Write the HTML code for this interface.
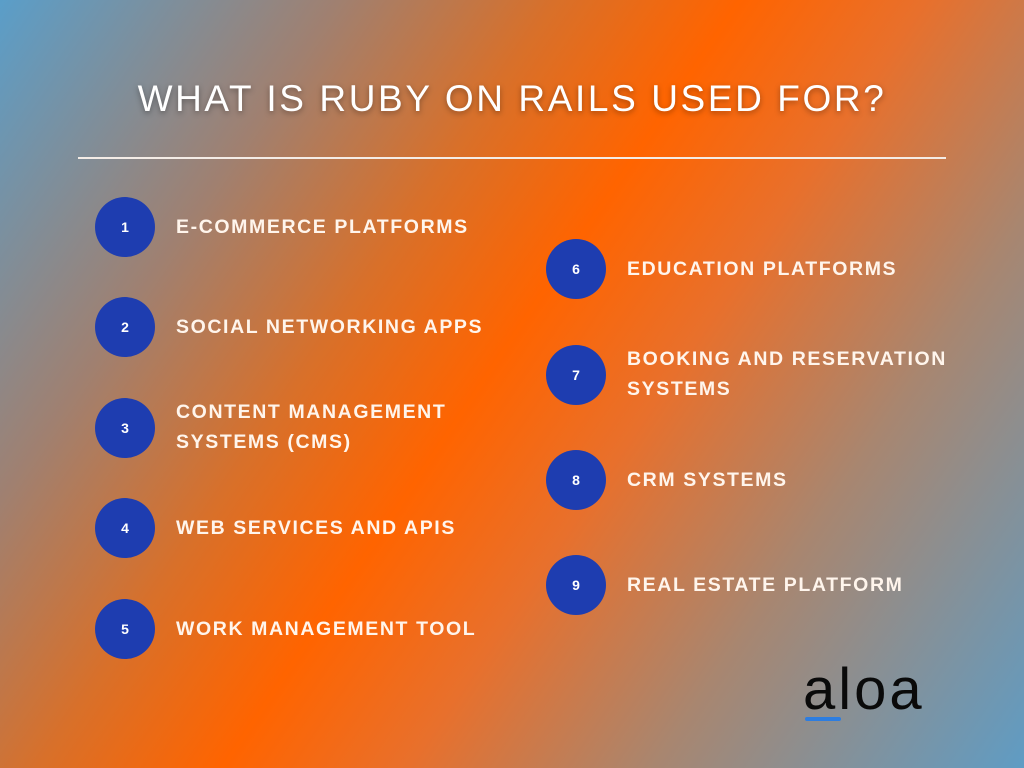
<!DOCTYPE html>
<html><head><meta charset="utf-8"><style>
body{margin:0;width:1024px;height:768px;overflow:hidden;font-family:"Liberation Sans",sans-serif;
background:linear-gradient(124deg,#5a9ec9 0%,#a08070 22%,#d8702a 36%,#ff6400 48%,#e8702c 60%,#a88670 76%,#5f9cc4 100%);position:relative}
.t{position:absolute;left:0;width:1024px;top:78px;text-align:center;color:#fff;font-size:37px;letter-spacing:2.6px;text-shadow:0 2px 6px rgba(0,0,0,.35)}
.ln{position:absolute;left:78px;top:157px;width:868px;height:2px;background:#f4ece6}
.c{position:absolute;width:60px;height:60px;border-radius:50%;background:#1e3db0;color:#fff;font-size:14px;font-weight:bold;text-align:center;line-height:60px}
.l{position:absolute;color:#fff5ec;font-size:19.5px;font-weight:bold;letter-spacing:1.6px;line-height:30px}
</style></head><body>
<div class="t">WHAT IS RUBY ON RAILS USED FOR?</div>
<div class="ln"></div>
<div class="c" style="left:95px;top:197px">1</div><div class="l" style="left:176px;top:212px">E-COMMERCE PLATFORMS</div>
<div class="c" style="left:95px;top:297px">2</div><div class="l" style="left:176px;top:312px">SOCIAL NETWORKING APPS</div>
<div class="c" style="left:95px;top:398px">3</div><div class="l" style="left:176px;top:397px">CONTENT MANAGEMENT<br>SYSTEMS (CMS)</div>
<div class="c" style="left:95px;top:498px">4</div><div class="l" style="left:176px;top:513px">WEB SERVICES AND APIS</div>
<div class="c" style="left:95px;top:599px">5</div><div class="l" style="left:176px;top:614px">WORK MANAGEMENT TOOL</div>
<div class="c" style="left:546px;top:239px">6</div><div class="l" style="left:627px;top:254px">EDUCATION PLATFORMS</div>
<div class="c" style="left:546px;top:345px">7</div><div class="l" style="left:627px;top:344px">BOOKING AND RESERVATION<br>SYSTEMS</div>
<div class="c" style="left:546px;top:450px">8</div><div class="l" style="left:627px;top:465px">CRM SYSTEMS</div>
<div class="c" style="left:546px;top:555px">9</div><div class="l" style="left:627px;top:570px">REAL ESTATE PLATFORM</div>
<div style="position:absolute;left:803px;top:656px;font-size:58px;color:#0a0a0a;letter-spacing:3px">aloa</div>
<div style="position:absolute;left:805px;top:717px;width:36px;height:4px;background:#2d7de0;border-radius:2px"></div>
</body></html>
